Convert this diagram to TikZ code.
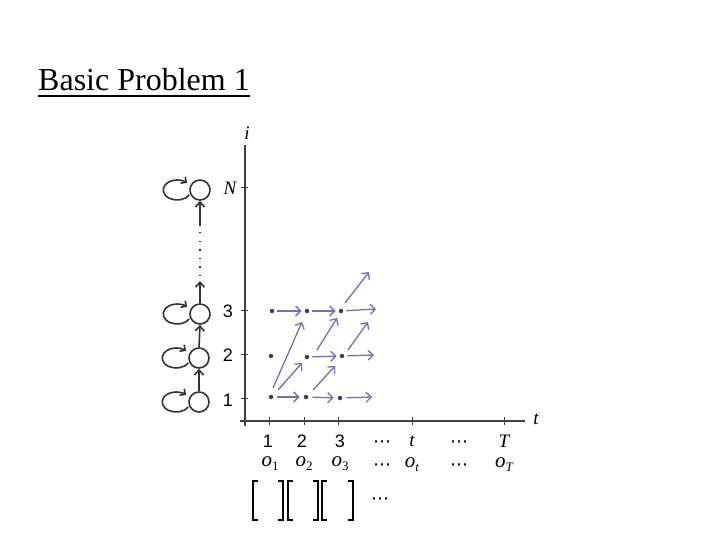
\documentclass[tikz,border=0pt]{standalone}
\usepackage{fontspec}
\setmainfont{Liberation Serif}
\setsansfont{Liberation Sans}
\newfontfamily\symfont{DejaVu Sans}
\usetikzlibrary{arrows.meta}
\definecolor{arrowblue}{RGB}{112,112,190}
\newcommand{\sub}[1]{\raisebox{-4pt}{\fontsize{13}{13}\selectfont #1}}
\newcommand{\hdots}{{\symfont ⋯}}
\begin{document}
\begin{tikzpicture}[x=1pt,y=-1pt,
  axis/.style={draw=black!75,line width=1.4pt},
  tick/.style={draw=black!75,line width=0.9pt},
  state/.style={circle,draw=black!80,line width=1.6pt,minimum size=20pt,inner sep=0pt},
  sarrow/.style={draw=black!80,line width=1.6pt,-{Straight Barb[length=5pt,width=9pt]}},
  dot/.style={circle,fill=black!75,inner sep=0pt,minimum size=4.5pt},
  barrow/.style={draw=arrowblue,line width=1.3pt,-{Straight Barb[length=5pt,width=10pt]}},
  lab/.style={font=\sffamily\fontsize{18}{18}\selectfont},
  mlab/.style={font=\fontsize{19}{19}\selectfont\itshape},
  olab/.style={font=\fontsize{21}{21}\selectfont\itshape},
  dlab/.style={font=\fontsize{18}{18}\selectfont}]
\useasboundingbox (0,0) rectangle (720,540);
% title
\node[anchor=base west,inner sep=0pt,font=\fontsize{32}{32}\selectfont] (title) at (38,91) {Basic Problem 1};
\draw[line width=1.8pt] (title.base west) ++(0,5) -- ([yshift=-5pt]title.base east);
% axes
\coordinate (ytop) at (245,145);
\coordinate (xend) at (525,421);
\draw[axis] (245,426) -- (ytop);
\draw[axis] (240,421) -- (xend);
\node[mlab] (ilab) at (247,133) {i};
\node[mlab] (tlab) at (536,419) {t};
% vertical ticks
\foreach \y in {187,310,354,398}{
  \draw[tick] (241,\y) -- (248,\y);
}
\node[mlab] (lN) at (230,188) {N};
\node[lab] (l3) at (228,311) {3};
\node[lab] (l2) at (228,355) {2};
\node[lab] (l1) at (228,400) {1};
% horizontal ticks
\foreach \x in {269,304,338,412,504}{
  \draw[tick] (\x,417) -- (\x,425);
}
\node[lab] (t1) at (268,441) {1};
\node[lab] (t2) at (302,441) {2};
\node[lab] (t3) at (340,441) {3};
\node[dlab] (td1) at (382,444) {\hdots};
\node[mlab] (tt) at (412,441) {t};
\node[dlab] (td2) at (459,444) {\hdots};
\node[mlab] (tT) at (504,441) {T};
\node[olab] (o1) at (270,464) {o\sub{\upshape 1}};
\node[olab] (o2) at (304,464) {o\sub{\upshape 2}};
\node[olab] (o3) at (340,464) {o\sub{\upshape 3}};
\node[dlab] (od1) at (382,467) {\hdots};
\node[olab] (ot) at (412,465) {o\sub{t}};
\node[dlab] (od2) at (459,467) {\hdots};
\node[olab] (oT) at (504,465) {o\sub{T}};
% brackets
\foreach \a/\b in {253/283,288/318,322/353}{
  \draw[line width=1.3pt] (\a+5,481) -- (\a,481) -- (\a,520) -- (\a+5,520);
  \draw[line width=1.3pt] (\b-5,481) -- (\b,481) -- (\b,520) -- (\b-5,520);
}
\node[dlab] (bd) at (380,501) {\hdots};
% states
\node[state] (s1) at (199,402) {};
\node[state] (s2) at (199,358) {};
\node[state] (s3) at (200,314) {};
\node[state] (sN) at (200,190) {};
\foreach \s in {s1,s2,s3,sN}{
  \draw[draw=black!80,line width=1.6pt,-{Straight Barb[length=4pt,width=8pt]}]
    ([xshift=-12pt]\s.west) ++(330:14pt and 10pt) arc[start angle=330,end angle=45,x radius=14pt,y radius=10pt];
}
\draw[sarrow] (s1.north) -- (s2.south);
\draw[sarrow] (s2.north) -- (s3.south);
\coordinate (a3) at (200,281);
\coordinate (aN) at (200,226);
\draw[sarrow] (s3.north) -- (a3);
\draw[draw=black!80,line width=1.8pt,dash pattern=on 1.5pt off 7pt] (200,276) -- (200,228);
\draw[sarrow] (aN) -- (sN.south);
% grid dots
\node[dot] (d31) at (272,311) {};
\node[dot] (d32) at (307,311) {};
\node[dot] (d33) at (341,311) {};
\node[dot] (d21) at (271,356) {};
\node[dot] (d22) at (307,357) {};
\node[dot] (d23) at (342,356) {};
\node[dot] (d11) at (271,397) {};
\node[dot] (d12) at (306,397) {};
\node[dot] (d13) at (340,398) {};
\coordinate (e3) at (376,309);
\coordinate (e2) at (374,355);
\coordinate (e1) at (372,397);
\coordinate (eup) at (369,272);
\coordinate (eup2) at (368,322);
% horizontal blue arrows
\draw[barrow,shorten <=3pt,shorten >=3pt] (d31) -- (d32);
\draw[barrow,shorten <=3pt,shorten >=3pt] (d32) -- (d33);
\draw[barrow,shorten <=3pt] (d33) -- (e3);
\draw[barrow,shorten <=3pt,shorten >=3pt] (d22) -- (d23);
\draw[barrow,shorten <=3pt] (d23) -- (e2);
\draw[barrow,shorten <=4pt,shorten >=4pt] (d11) -- (d12);
\draw[barrow,shorten <=4pt,shorten >=4pt] (d12) -- (d13);
\draw[barrow,shorten <=4pt] (d13) -- (e1);
% diagonal blue arrows
\draw[barrow] ([shift={(2,-9)}]d11.center) -- ([shift={(-5,11)}]d32.center);
\draw[barrow] ([shift={(7,-7)}]d11.center) -- ([shift={(-5,6)}]d22.center);
\draw[barrow] ([shift={(10,-7)}]d22.center) -- ([shift={(-4,7)}]d33.center);
\draw[barrow] ([shift={(7,-7)}]d12.center) -- ([shift={(-7,10)}]d23.center);
\draw[barrow] ([shift={(6,-6)}]d23.center) -- (eup2);
\draw[barrow] ([shift={(4,-8)}]d33.center) -- (eup);
\end{tikzpicture}
\end{document}
